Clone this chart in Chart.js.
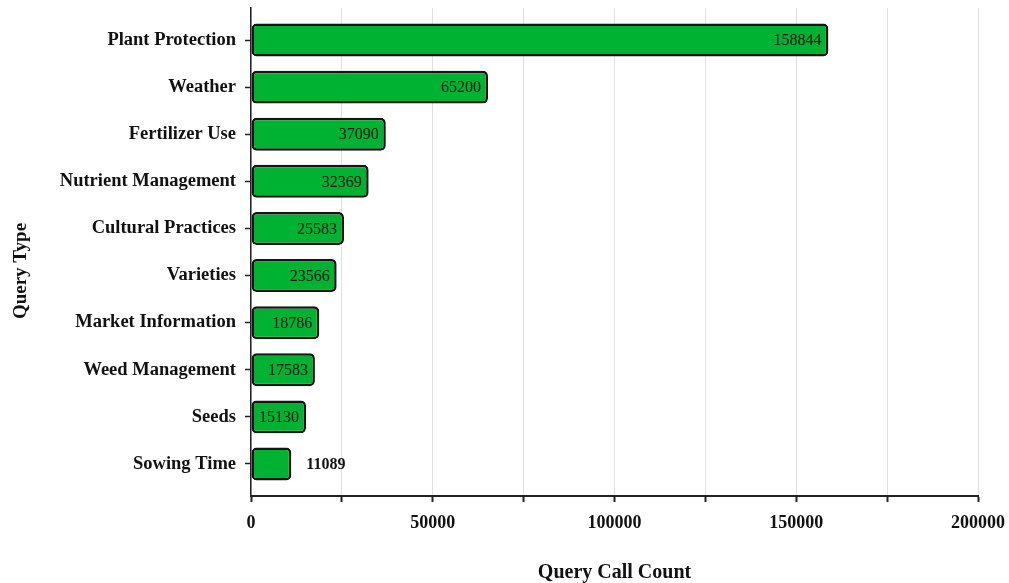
<!DOCTYPE html>
<html>
<head>
<meta charset="utf-8">
<script src="https://cdn.jsdelivr.net/npm/chart.js@4/dist/chart.umd.min.js"></script>
<style>
  html, body { margin: 0; padding: 0; background: #fff; }
  #wrap { width: 1009px; height: 583px; }
</style>
</head>
<body>
<div id="wrap"><canvas id="c" width="1009" height="583"></canvas></div>
<script>
const categories = [
  'Plant Protection', 'Weather', 'Fertilizer Use', 'Nutrient Management',
  'Cultural Practices', 'Varieties', 'Market Information', 'Weed Management',
  'Seeds', 'Sowing Time'
];
const queryCounts = [158844, 65200, 37090, 32369, 25583, 23566, 18786, 17583, 15130, 11089];
const xTickValues = [0, 50000, 100000, 150000, 200000];

const SERIF = '"Liberation Serif", "DejaVu Serif", serif';

// value labels: inside the bar end when it fits, otherwise just past it
const valueLabels = {
  id: 'valueLabels',
  afterDatasetsDraw(chart) {
    const ctx = chart.ctx;
    const meta = chart.getDatasetMeta(0);
    ctx.save();
    ctx.textBaseline = 'middle';
    ctx.fillStyle = '#111';
    meta.data.forEach((bar, i) => {
      const txt = String(queryCounts[i]);
      const w = bar.x - bar.base;
      ctx.font = 'normal 16px ' + SERIF;
      const tw = ctx.measureText(txt).width;
      if (w > tw + 12) {
        ctx.textAlign = 'right';
        ctx.fillText(txt, bar.x - 7, bar.y + 1);
      } else {
        ctx.font = 'bold 16px ' + SERIF;
        ctx.textAlign = 'left';
        ctx.fillText(txt, bar.x + 15, bar.y + 1);
      }
    });
    ctx.restore();
  }
};

// vertical axis title, centred on the band of bars
const yTitle = {
  id: 'yTitle',
  afterDraw(chart) {
    const y = chart.scales.y;
    const ctx = chart.ctx;
    const cy = (y.getPixelForValue(0) + y.getPixelForValue(categories.length - 1)) / 2 + 19;
    ctx.save();
    ctx.translate(21, cy);
    ctx.rotate(-Math.PI / 2);
    ctx.textAlign = 'center';
    ctx.textBaseline = 'middle';
    ctx.fillStyle = '#111';
    ctx.font = 'bold 19px ' + SERIF;
    ctx.fillText('Query Type', 0, 0);
    ctx.restore();
  }
};

new Chart(document.getElementById('c'), {
  type: 'bar',
  data: {
    datasets: [{
      data: queryCounts.map((v, i) => ({ x: v, y: i })),
      backgroundColor: 'rgb(0,178,50)',
      borderColor: '#151515',
      borderWidth: 2.5,
      borderRadius: 5,
      borderSkipped: false,
      barPercentage: 0.7,
      categoryPercentage: 1
    }]
  },
  options: {
    indexAxis: 'y',
    responsive: false,
    animation: false,
    devicePixelRatio: 1,
    layout: { padding: { top: 8, right: 31, left: 0, bottom: 0 } },
    plugins: { legend: { display: false }, tooltip: { enabled: false } },
    scales: {
      x: {
        type: 'linear',
        min: 0,
        max: 200000,
        afterFit(scale) { scale.height = 87; scale.paddingLeft = 0; scale.paddingRight = 0; },
        ticks: {
          stepSize: 25000,
          autoSkip: false,
          maxRotation: 0,
          padding: 11,
          color: '#111',
          font: { family: SERIF, size: 18, weight: 'bold' },
          callback: (v) => xTickValues.includes(v) ? String(v) : ''
        },
        grid: {
          color: '#e0e0e0',
          lineWidth: 1,
          tickLength: 6,
          tickColor: '#222',
          tickWidth: 2
        },
        border: { display: true, color: '#222', width: 2 },
        title: {
          display: true,
          text: 'Query Call Count',
          color: '#111',
          font: { family: SERIF, size: 20, weight: 'bold' },
          padding: { top: 0, bottom: -2 }
        }
      },
      y: {
        type: 'linear',
        reverse: true,
        bounds: 'data',
        offset: false,
        min: -0.68,
        max: 9.68,
        afterBuildTicks(scale) {
          scale.ticks = categories.map((_, i) => ({ value: i }));
        },
        afterFit(scale) { scale.width = 251; scale.paddingTop = 0; scale.paddingBottom = 0; },
        ticks: {
          autoSkip: false,
          padding: 9,
          color: '#111',
          font: { family: SERIF, size: 18.5, weight: 'bold' },
          callback: (v) => categories[v] !== undefined ? categories[v] : ''
        },
        grid: {
          offset: false,
          drawOnChartArea: false,
          tickLength: 6,
          tickWidth: 1.5,
          tickColor: '#222'
        },
        border: { display: true, color: '#222', width: 1.5 },
        title: { display: false }
      }
    }
  },
  plugins: [valueLabels, yTitle]
});
</script>
</body>
</html>
